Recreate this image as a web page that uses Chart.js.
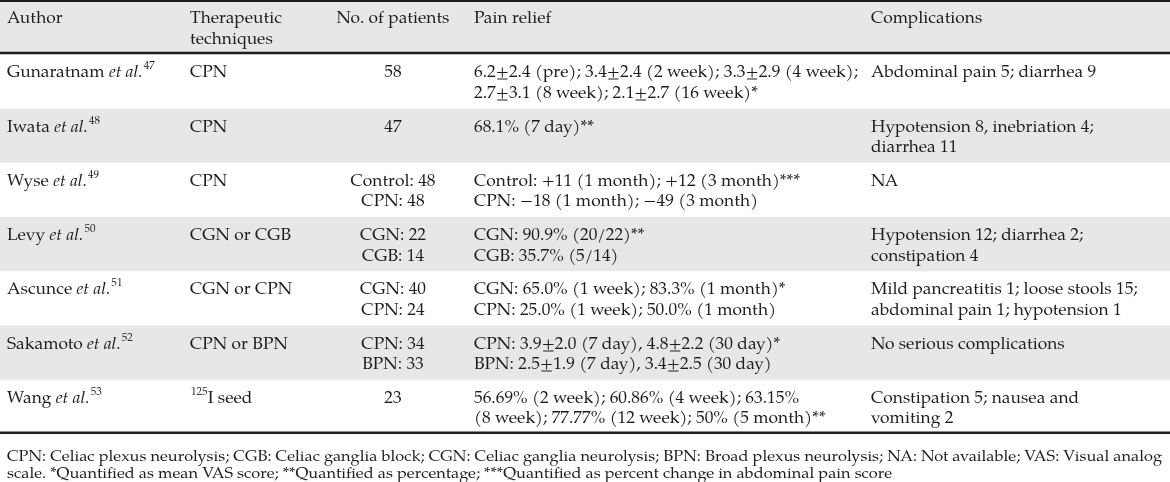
<!DOCTYPE html>
<html>
<head>
<meta charset="utf-8">
<script src="https://cdn.jsdelivr.net/npm/chart.js@4.4.1/dist/chart.umd.min.js"></script>
<style>
  html, body { margin: 0; padding: 0; background: #fff; }
  #tbl { display: block; }
</style>
</head>
<body>
<canvas id="tbl" width="1170" height="482"></canvas>
<script>
// TABLE DATA  (_x_ = italic, ^x^ = superscript)
const headers = [["Author"], ["Therapeutic", "techniques"], ["No. of patients"], ["Pain relief"], ["Complications"]];

const authors = [
  ["Gunaratnam _et al._^47^"],
  ["Iwata _et al._^48^"],
  ["Wyse _et al._^49^"],
  ["Levy _et al._^50^"],
  ["Ascunce _et al._^51^"],
  ["Sakamoto _et al._^52^"],
  ["Wang _et al._^53^"]
];

const techniques = [["CPN"], ["CPN"], ["CPN"], ["CGN or CGB"], ["CGN or CPN"], ["CPN or BPN"], ["^125^I seed"]];

const patients = [
  ["58"],
  ["47"],
  ["Control: 48", "CPN: 48"],
  ["CGN: 22", "CGB: 14"],
  ["CGN: 40", "CPN: 24"],
  ["CPN: 34", "BPN: 33"],
  ["23"]
];

const painRelief = [
  ["6.2±2.4 (pre); 3.4±2.4 (2 week); 3.3±2.9 (4 week);", "2.7±3.1 (8 week); 2.1±2.7 (16 week)*"],
  ["68.1% (7 day)**"],
  ["Control: +11 (1 month); +12 (3 month)***", "CPN: \u221218 (1 month); \u221249 (3 month)"],
  ["CGN: 90.9% (20/22)**", "CGB: 35.7% (5/14)"],
  ["CGN: 65.0% (1 week); 83.3% (1 month)*", "CPN: 25.0% (1 week); 50.0% (1 month)"],
  ["CPN: 3.9±2.0 (7 day), 4.8±2.2 (30 day)*", "BPN: 2.5±1.9 (7 day), 3.4±2.5 (30 day)"],
  ["56.69% (2 week); 60.86% (4 week); 63.15%", "(8 week); 77.77% (12 week); 50% (5 month)**"]
];

const complications = [
  ["Abdominal pain 5; diarrhea 9"],
  ["Hypotension 8, inebriation 4;", "diarrhea 11"],
  ["NA"],
  ["Hypotension 12; diarrhea 2;", "constipation 4"],
  ["Mild pancreatitis 1; loose stools 15;", "abdominal pain 1; hypotension 1"],
  ["No serious complications"],
  ["Constipation 5; nausea and", "vomiting 2"]
];

const footnotes = [
  "CPN: Celiac plexus neurolysis; CGB: Celiac ganglia block; CGN: Celiac ganglia neurolysis; BPN: Broad plexus neurolysis; NA: Not available; VAS: Visual analog",
  "scale. *Quantified as mean VAS score; **Quantified as percentage; ***Quantified as percent change in abdominal pain score"
];

// LAYOUT
const columns = [authors, techniques, patients, painRelief, complications];
const colX = [7, 190, 393, 474, 871];
const colAlign = ["left", "left", "center", "left", "left"];
const ROW_UNIT = 54.25;
const FAMILY = "'TeX Gyre Pagella', 'Noto Serif', 'Liberation Serif', serif";
const BODY = 16.5, FOOT = 15, SUP = 10.5;
const INK = "#1c1c1c", SHADE = "#e7e7e7", RULE = "#1e1e1e";

function segments(str) {
  return str.split(/(_[^_]+_|\^[^^]+\^)/).filter(s => s).map(s => {
    if (s[0] === "_") return { t: s.slice(1, -1), style: "italic" };
    if (s[0] === "^") return { t: s.slice(1, -1), style: "normal", sup: true };
    return { t: s, style: "normal" };
  });
}

function drawRich(ctx, str, x, y, align, size, sx) {
  const segs = segments(str);
  let total = 0;
  segs.forEach(s => {
    const fs = s.sup ? SUP : size;
    ctx.font = s.style + " " + fs + "px " + FAMILY;
    s.w = ctx.measureText(s.t).width;
    total += s.w;
  });
  let startX = x;
  if (align === "center") startX = x - total * sx / 2;
  ctx.save();
  ctx.translate(startX, y);
  ctx.scale(sx, 1);
  let cx = 0;
  segs.forEach(s => {
    const fs = s.sup ? SUP : size;
    ctx.font = s.style + " " + fs + "px " + FAMILY;
    ctx.fillText(s.t, cx + (s.sup ? 1 : 0), s.sup ? -8 : 0);
    cx += s.w + (s.sup ? 1 : 0);
  });
  ctx.restore();
}

function stretchFor(ctx, size, sample, target) {
  ctx.font = "normal " + size + "px " + FAMILY;
  return target / ctx.measureText(sample).width;
}

// TABLE PLUGIN
const tablePlugin = {
  id: "tablePlugin",
  beforeDatasetsDraw(chart) {
    const { ctx, chartArea, scales: { y } } = chart;
    ctx.save();
    for (let r = 0; r <= columns[0].length; r++) {
      if (r === 0 || r % 2 === 0) {
        const top = y.getPixelForValue(r), bot = y.getPixelForValue(r + 1);
        ctx.fillStyle = SHADE;
        ctx.fillRect(chartArea.left, top, chartArea.width, bot - top);
      }
    }
    ctx.fillStyle = RULE;
    const rules = [[0, 2], [1, 2.5], [columns[0].length + 1, 2.5]];
    rules.forEach(([v, h]) => {
      const py = Math.max(0, y.getPixelForValue(v) - (v === 0 ? 0 : h));
      ctx.fillRect(chartArea.left, py, chartArea.width, h);
    });
    ctx.restore();
  },
  afterDatasetsDraw(chart) {
    const { ctx } = chart;
    const sxBody = stretchFor(ctx, BODY, painRelief[0][0], 384);
    const sxFoot = stretchFor(ctx, FOOT, footnotes[0], 1155);
    ctx.save();
    ctx.fillStyle = INK;
    ctx.textBaseline = "alphabetic";
    chart.data.datasets.forEach((ds, di) => {
      const meta = chart.getDatasetMeta(di);
      meta.data.forEach((pt, i) => {
        const lines = ds.cells[i];
        lines.forEach((ln, k) => {
          if (ds.isFoot) {
            drawRich(ctx, ln, pt.x, pt.y + 27 + k * 17, "left", FOOT, sxFoot);
          } else {
            drawRich(ctx, ln, pt.x, pt.y + 23 + k * 20.5, ds.align, BODY, sxBody);
          }
        });
      });
    });
    ctx.restore();
  }
};

const datasets = columns.map((col, c) => {
  const cells = [headers[c]].concat(col);
  return {
    data: cells.map((_, r) => ({ x: colX[c], y: r })),
    cells: cells,
    align: colAlign[c],
    pointRadius: 0
  };
});
datasets.push({
  data: [{ x: colX[0], y: columns[0].length + 1 }],
  cells: [footnotes],
  isFoot: true,
  pointRadius: 0
});

new Chart(document.getElementById("tbl"), {
  type: "scatter",
  data: { datasets: datasets },
  options: {
    responsive: false,
    animation: false,
    devicePixelRatio: 1,
    layout: { padding: 0 },
    scales: {
      x: { type: "linear", min: 0, max: 1170, display: false },
      y: { type: "linear", min: 0, max: 482 / ROW_UNIT, reverse: true, display: false }
    },
    plugins: { legend: { display: false }, tooltip: { enabled: false } }
  },
  plugins: [tablePlugin]
});
</script>
</body>
</html>
